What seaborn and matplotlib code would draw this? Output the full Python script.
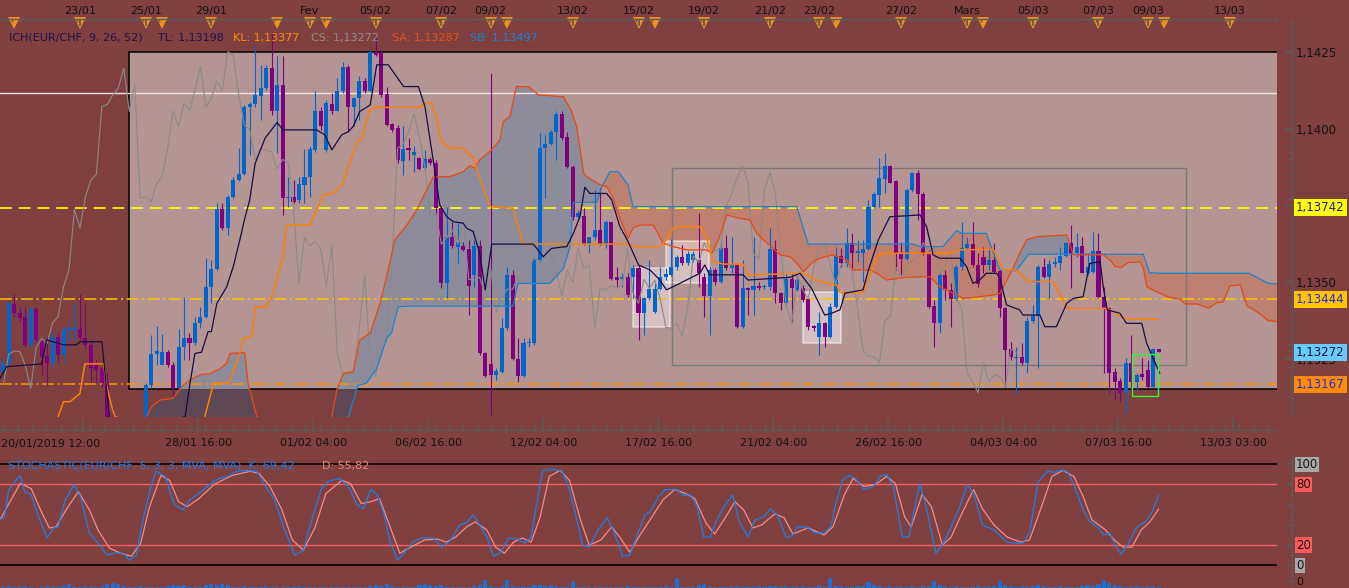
import numpy as np
import matplotlib
matplotlib.use("Agg")
import matplotlib.pyplot as plt
import seaborn as sns
from matplotlib.patches import Rectangle, Polygon
from matplotlib.transforms import blended_transform_factory
from matplotlib.ticker import FixedLocator, MultipleLocator, FuncFormatter, NullFormatter

# --- Data: EUR/CHF 4h candles, prices in 1e-5 above 1.13000 (272 -> 1,13272) ---
BASE = 1.13

open_v = [209, 236, 429, 401, 388, 296, 412, 306, 260, 236,
          323, 263, 344, 344, 347, 317, 296, 230, 219, 171,
          45, 30, 10, 20, -5, 15, 40, 165, 266, 230,
          272, 230, 154, 288, 317, 301, 368, 388, 485, 542,
          737, 676, 779, 833, 851, 1072, 1079, 1107, 1132, 1197,
          1056, 1142, 773, 779, 768, 817, 842, 931, 1058, 931,
          1081, 1059, 1124, 1202, 1070, 1099, 1155, 1124, 1248, 1246,
          1113, 1015, 1001, 896, 936, 914, 904, 871, 901, 889,
          741, 496, 646, 616, 619, 607, 524, 618, 268, 234,
          198, 209, 350, 524, 250, 194, 301, 301, 572, 936,
          950, 988, 1048, 972, 874, 711, 716, 624, 646, 670,
          624, 695, 516, 509, 518, 518, 545, 401, 448, 404,
          477, 516, 524, 548, 581, 564, 572, 572, 516, 455,
          540, 499, 610, 545, 556, 353, 480, 475, 489, 483,
          483, 607, 464, 431, 509, 475, 480, 444, 357, 323,
          366, 323, 420, 585, 564, 627, 594, 594, 607, 746,
          784, 835, 879, 828, 594, 575, 800, 857, 787, 594,
          423, 368, 524, 475, 444, 548, 610, 624, 556, 581,
          556, 572, 538, 415, 281, 252, 255, 236, 374, 390,
          548, 518, 559, 564, 585, 629, 594, 618, 531, 534,
          600, 451, 415, 209, 179, 143, 238, 176, 201, 214,
          160, 281]
high_v = [252, 437, 462, 420, 420, 420, 420, 312, 323, 339,
          334, 350, 371, 431, 462, 431, 312, 247, 225, 209,
          95, 50, 40, 35, 30, 50, 171, 328, 357, 331,
          279, 241, 347, 451, 334, 388, 420, 578, 572, 757,
          757, 784, 844, 936, 1077, 1088, 1269, 1208, 1208, 1315,
          1235, 1235, 844, 833, 844, 933, 942, 1121, 1072, 1094,
          1115, 1164, 1218, 1208, 1104, 1170, 1164, 1256, 1300, 1256,
          1137, 1018, 1012, 1009, 969, 942, 909, 931, 909, 898,
          746, 746, 697, 692, 632, 638, 638, 638, 274, 1182,
          220, 382, 551, 540, 317, 317, 319, 578, 985, 980,
          996, 1056, 1056, 990, 882, 735, 741, 648, 800, 806,
          703, 697, 551, 529, 529, 556, 556, 453, 572, 496,
          551, 545, 640, 589, 621, 603, 600, 724, 529, 551,
          545, 638, 654, 648, 562, 572, 485, 648, 502, 494,
          676, 638, 469, 531, 529, 520, 490, 453, 360, 404,
          371, 431, 616, 610, 676, 659, 638, 638, 768, 795,
          904, 920, 882, 833, 632, 806, 860, 866, 795, 605,
          442, 529, 540, 496, 556, 697, 648, 697, 594, 616,
          610, 627, 540, 420, 306, 290, 301, 388, 426, 556,
          578, 572, 583, 616, 632, 686, 659, 648, 594, 665,
          661, 485, 420, 219, 187, 252, 328, 203, 252, 247,
          285, 281]
low_v = [203, 230, 388, 371, 290, 290, 306, 198, 165, 219,
         241, 236, 306, 312, 312, 285, 176, 171, 160, 20,
         10, 0, -10, -20, -15, 5, 20, 154, 230, 230,
         225, 127, 149, 247, 247, 296, 350, 382, 431, 540,
         670, 654, 773, 828, 849, 914, 1072, 1028, 1126, 1045,
         920, 719, 746, 757, 757, 757, 779, 925, 996, 925,
         1048, 1056, 1115, 990, 1007, 1028, 1115, 1121, 1235, 1104,
         1007, 990, 887, 849, 898, 860, 866, 866, 882, 713,
         480, 448, 610, 562, 600, 393, 485, 263, 192, 67,
         181, 203, 344, 247, 176, 192, 290, 296, 567, 773,
         947, 898, 963, 871, 703, 700, 621, 594, 637, 621,
         610, 507, 485, 485, 453, 448, 312, 328, 442, 401,
         475, 507, 520, 540, 556, 556, 565, 485, 388, 328,
         491, 496, 540, 529, 350, 350, 393, 393, 475, 478,
         475, 431, 410, 426, 371, 470, 437, 344, 340, 263,
         290, 317, 415, 551, 551, 540, 567, 502, 605, 741,
         746, 790, 822, 540, 524, 572, 795, 703, 589, 415,
         290, 336, 442, 355, 442, 540, 605, 551, 485, 529,
         540, 529, 388, 160, 247, 133, 230, 203, 366, 219,
         513, 447, 551, 540, 583, 480, 583, 529, 524, 529,
         447, 203, 138, 116, 111, 73, 138, 149, 181, 154,
         154, 272]
close_v = [236, 431, 399, 385, 296, 412, 312, 258, 236, 323,
           263, 347, 350, 350, 317, 296, 219, 214, 171, 40,
           30, 10, 20, -5, 15, 35, 165, 266, 276, 274,
           230, 154, 288, 317, 301, 368, 388, 485, 542, 737,
           676, 779, 833, 851, 1072, 1079, 1110, 1132, 1197, 1056,
           1142, 773, 779, 762, 820, 844, 933, 1058, 1007, 1083,
           1059, 1124, 1202, 1070, 1099, 1155, 1124, 1251, 1240, 1110,
           1012, 996, 898, 933, 929, 925, 868, 900, 889, 741,
           496, 646, 619, 632, 605, 488, 618, 268, 194, 198,
           211, 350, 524, 249, 194, 303, 306, 572, 936, 950,
           988, 1048, 971, 874, 711, 724, 624, 646, 670, 624,
           695, 509, 507, 516, 458, 545, 401, 448, 477, 477,
           516, 526, 548, 581, 564, 592, 592, 529, 455, 540,
           499, 610, 545, 556, 353, 480, 475, 489, 480, 488,
           607, 464, 431, 509, 480, 507, 442, 353, 350, 366,
           323, 420, 585, 564, 629, 596, 603, 607, 746, 787,
           838, 879, 824, 592, 575, 800, 857, 787, 594, 420,
           368, 524, 475, 444, 548, 610, 624, 556, 494, 556,
           572, 534, 415, 279, 258, 258, 236, 374, 390, 548,
           518, 559, 567, 585, 629, 594, 616, 531, 551, 600,
           451, 415, 205, 176, 140, 238, 176, 198, 192, 160,
           281, 272]
volume = [1, 2, 1, 1, 2, 1, 0, 1, 2, 1, 1, 2,
          4, 1, 1, 2, 1, 1, 2, 4, 5, 4, 2, 1,
          1, 2, 1, 1, 1, 1, 2, 3, 2, 3, 1, 1,
          1, 3, 4, 3, 4, 3, 1, 1, 2, 1, 1, 1,
          2, 1, 1, 1, 1, 1, 2, 1, 1, 1, 1, 1,
          1, 1, 1, 1, 1, 1, 1, 2, 3, 2, 4, 2,
          1, 1, 1, 1, 3, 4, 3, 2, 3, 1, 1, 1,
          1, 1, 2, 3, 8, 2, 1, 2, 8, 2, 1, 1,
          1, 3, 3, 2, 3, 1, 1, 1, 7, 1, 1, 1,
          1, 1, 1, 1, 1, 1, 2, 1, 1, 1, 1, 1,
          1, 2, 1, 10, 1, 1, 1, 3, 4, 1, 1, 1,
          1, 1, 2, 1, 1, 1, 2, 1, 2, 2, 1, 2,
          1, 1, 2, 1, 1, 3, 1, 10, 2, 2, 1, 1,
          2, 2, 6, 3, 2, 1, 2, 1, 1, 1, 2, 1,
          2, 2, 7, 3, 2, 1, 2, 1, 1, 1, 2, 1,
          1, 2, 7, 3, 2, 1, 2, 1, 2, 3, 2, 1,
          1, 2, 1, 1, 1, 2, 3, 2, 4, 8, 5, 3,
          2, 1, 1, 2, 1, 1, 2, 1]

# Ichimoku lines as (candle index, price) knots
tenkan = [(-0.6, 187), (0.6, 225), (7.0, 234), (7.9, 312), (11.0, 296), (13.4, 296), (14.0, 306),
          (18.0, 306), (19.5, 40), (25, 30), (33.2, 62), (34.1, 171), (35.0, 268), (36.2, 272),
          (37.4, 339), (38.0, 339), (39.0, 431), (40.8, 485), (42.0, 551), (43.2, 638), (44.1, 708),
          (45.0, 768), (46.0, 887), (47.8, 969), (50.0, 1020), (51.1, 996), (57.2, 996), (58.7, 980),
          (60.0, 931), (61.8, 980), (63.0, 990), (63.9, 1007), (65.1, 1056), (67.0, 1077), (68.2, 1208),
          (70.3, 1208), (73.1, 1137), (75.8, 1137), (77.0, 1072), (78.5, 898), (79.7, 752), (81.0, 713),
          (82.2, 697), (84.0, 692), (84.6, 676), (85.8, 665), (87.0, 594), (88.0, 475), (89.2, 624),
          (96.8, 624), (98.6, 583), (100.1, 610), (102.9, 616), (104.1, 659), (105.3, 713), (106.2, 809),
          (107.1, 789), (110.2, 789), (111.1, 768), (112.6, 681), (114.1, 632), (116.0, 556), (118.1, 540),
          (119.9, 507), (121.1, 475), (122.3, 485), (127.2, 529), (128.1, 556), (129.0, 524), (135.1, 524),
          (136.0, 507), (143.7, 516), (145.5, 529), (147.6, 480), (150.0, 393), (151.3, 399), (152.8, 410),
          (153.7, 464), (157.0, 475), (158.0, 540), (159.8, 638), (161.9, 713), (167.4, 719), (168.6, 681),
          (169.8, 589), (171.0, 578), (174.7, 578), (175.9, 551), (177.1, 496), (178.3, 507), (179.5, 529),
          (181.4, 529), (182.0, 513), (183.2, 426), (185.6, 410), (186.2, 393), (189.3, 393), (190.2, 355),
          (192.3, 355), (194.2, 431), (195.4, 447), (197.2, 453), (198.4, 561), (200.3, 567), (200.9, 480),
          (201.6, 410), (203.9, 399), (205.1, 366), (207.9, 366), (208.8, 301), (210.1, 247), (211.2, 203)]
kijun = [(10.0, 62), (11.0, 111), (12.2, 111), (14.0, 138), (14.9, 234), (18.3, 234), (18.9, 160),
         (19.8, 95), (20.4, 62), (26, 30), (36, 40), (36.8, 62), (38.4, 171), (41.1, 171), (43.2, 268),
         (43.8, 317), (45.4, 323), (46.0, 420), (48.1, 420), (49.3, 464), (50.2, 529), (51.1, 583),
         (51.7, 686), (56.0, 686), (58.4, 784), (60.3, 789), (62.1, 822), (63.0, 876), (64.8, 963),
         (65.4, 963), (66.9, 1061), (67.9, 1069), (76.1, 1069), (77.0, 1083), (78.2, 1083), (79.1, 1039),
         (80.0, 958), (81.6, 936), (84.0, 936), (85.2, 914), (85.8, 907), (86.7, 855), (88.9, 746),
         (93.1, 741), (94.9, 624), (114.4, 624), (115.0, 616), (119.9, 616), (121.1, 638), (122.3, 676),
         (123.6, 681), (127.2, 681), (128.4, 648), (129.6, 567), (131.5, 559), (135.1, 559), (136.0, 524),
         (146.1, 529), (148.5, 507), (151.5, 491), (152.2, 491), (152.8, 466), (157.0, 466), (159.8, 589),
         (161.3, 594), (172.8, 594), (174.7, 605), (180.8, 607), (182.6, 540), (185.0, 540), (187.2, 502),
         (191.7, 502), (192.9, 464), (194.2, 415), (201.5, 415), (202.7, 404), (204.5, 382), (210.9, 379)]
span_a = [(20, 30), (25.5, 40), (26.2, 62), (27.1, 95), (28.6, 116), (31.0, 122), (32.6, 160), (34.1, 182),
          (36.2, 200), (37.7, 201), (39.6, 219), (40.8, 236), (41.4, 268), (44.1, 271), (44.7, 171),
          (46.3, 62), (50, 20), (58, 20), (60.0, 62), (60.9, 149), (62.1, 203), (63.9, 209), (65.1, 312),
          (67.0, 334), (68.8, 431), (70.0, 518), (71.5, 638), (73.7, 686), (75.5, 735), (77.3, 800),
          (78.5, 842), (81.6, 844), (84.0, 860), (85.2, 879), (86.1, 871), (87.0, 898), (89.2, 931),
          (90.7, 963), (91.3, 1023), (92.5, 1039), (93.7, 1137), (95.9, 1137), (97.7, 1110), (102.3, 1104),
          (103.8, 1056), (104.7, 1007), (106.0, 855), (106.5, 844), (109.0, 817), (110.2, 811), (111.4, 773),
          (112.0, 735), (113.2, 681), (114.1, 643), (115.0, 676), (116.3, 686), (118.7, 686), (120.5, 627),
          (122.3, 616), (124.8, 605), (128.4, 605), (129.4, 594), (130.6, 638), (131.5, 686), (132.1, 719),
          (134.5, 708), (136.3, 703), (137.6, 659), (138.8, 638), (140.6, 610), (141.8, 589), (143.7, 583),
          (144.9, 562), (146.1, 534), (147.6, 562), (149.1, 578), (151.5, 589), (154.0, 572), (155.2, 540),
          (158.2, 540), (159.5, 529), (161.3, 507), (165.0, 516), (169.2, 518), (171.0, 486), (175.3, 447),
          (180.8, 458), (182.0, 464), (184.1, 534), (185.6, 594), (186.9, 638), (188.7, 648), (194.2, 654),
          (195.4, 589), (200.9, 589), (202.4, 567), (203.0, 551), (204.2, 548), (205.4, 564), (207.6, 566),
          (208.2, 545), (208.8, 485), (210.6, 469), (213.0, 450), (214.9, 445), (215.8, 429), (218.0, 429),
          (220.1, 415), (221.6, 433), (222.8, 436), (224.0, 488), (225.9, 491), (227.1, 423), (228.9, 404),
          (231.0, 375), (233.0, 371)]
span_b = [(20, 20), (55, 20), (63.0, 62), (64.8, 165), (66.3, 171), (68.2, 219), (70.0, 317), (70.9, 334),
          (72.1, 420), (74.6, 422), (93.1, 422), (94.0, 496), (99.8, 496), (102.3, 545), (103.5, 616),
          (104.1, 760), (108.4, 760), (109.3, 811), (110.8, 860), (112.3, 860), (114.1, 817), (115.0, 746),
          (144.9, 746), (147.0, 624), (166.2, 624), (167.4, 616), (171.6, 616), (174.1, 668), (175.0, 659),
          (179.5, 659), (182.0, 540), (185.0, 537), (187.2, 591), (208.2, 591), (209.3, 531), (211.2, 529),
          (227.5, 529), (231.0, 496), (233.0, 494)]
CHIKOU_SHIFT = 26

# Stochastic %K and %D as (candle index, value) knots
stoch_k = [(-0.6, 45), (0.2, 48), (1.0, 75), (2.3, 84), (3.1, 89), (3.9, 73), (5.1, 70), (6.3, 50), (8.0, 27),
           (9.2, 37), (10.0, 38), (11.2, 63), (12.9, 80), (14.1, 68), (15.7, 32), (17.3, 22), (19.0, 10),
           (20.6, 12.5), (22.2, 11), (23.0, 5), (24.3, 10), (25.5, 45), (27.1, 81), (27.9, 93), (29.6, 88),
           (31.2, 60), (32.8, 55), (34.1, 65), (35.7, 71), (37.7, 80), (39.4, 86), (41.0, 88), (42.6, 93),
           (44.6, 94), (46.3, 93), (47.9, 78), (49.5, 65), (51.2, 38), (53.2, 10), (54.8, 15), (56.5, 48),
           (58.1, 76), (59.3, 83), (61.4, 86), (63.0, 78), (64.6, 60), (65.8, 56), (67.1, 75), (68.3, 70),
           (69.5, 51), (70.7, 22), (72.0, 5), (73.2, 12), (74.8, 23), (76.4, 27), (78.5, 27), (80.1, 18),
           (81.7, 25), (83.4, 40), (84.6, 42), (85.8, 50), (87.0, 40), (88.3, 28), (89.5, 9), (90.7, 12),
           (92.3, 27), (94.0, 26), (95.2, 22), (96.4, 28), (97.2, 55), (98.5, 94), (100.5, 95), (102.1, 93),
           (103.4, 75), (104.6, 48), (105.8, 20), (107.0, 18), (108.6, 35), (110.3, 47), (111.5, 33),
           (113.1, 9), (114.4, 10), (115.6, 28), (117.2, 50), (118.1, 53), (119.7, 68), (120.9, 75),
           (123.0, 75), (124.2, 69), (125.4, 70), (126.7, 58), (127.9, 28), (129.1, 28), (130.3, 45),
           (131.6, 58), (133.2, 70), (134.4, 43), (136.0, 28), (137.3, 45), (138.9, 48), (140.1, 56),
           (141.3, 50), (143.0, 27), (144.2, 30), (145.0, 38), (146.6, 38), (148.3, 32), (149.9, 32),
           (151.1, 38), (151.9, 58), (153.2, 84), (154.4, 89), (155.6, 86), (157.2, 75), (158.9, 78),
           (160.1, 88), (161.3, 90), (162.5, 78), (164.2, 28), (165.4, 28), (166.2, 51), (167.4, 81),
           (168.6, 56), (170.3, 12), (171.5, 20), (173.1, 38), (174.8, 60), (176.0, 80), (177.2, 71),
           (178.8, 40), (180.9, 35), (183.3, 23), (184.5, 22), (186.2, 22), (187.4, 32), (189.0, 83),
           (190.7, 93), (191.9, 92), (193.1, 94), (194.3, 93), (195.5, 80), (197.2, 55), (198.4, 43),
           (200.0, 37), (200.9, 30), (202.1, 32), (202.9, 21), (204.1, 11), (205.3, 20), (207.0, 38),
           (208.6, 43), (209.8, 53), (211.0, 69.42)]
stoch_d = [(-0.6, 45), (1.0, 61), (3.1, 81), (5.1, 76), (6.7, 56), (8.4, 37), (9.6, 38), (11.6, 56), (13.7, 73),
           (15.7, 55), (17.3, 35), (19.4, 17), (21.4, 12), (23.4, 9), (25.1, 22), (26.7, 58), (28.8, 89),
           (30.4, 84), (32.0, 63), (33.6, 58), (35.7, 66), (38.5, 80), (41.8, 89), (45.1, 93), (46.7, 91),
           (48.7, 78), (50.8, 56), (52.8, 25), (54.8, 15), (56.9, 37), (58.9, 71), (61.8, 84), (63.4, 81),
           (65.4, 61), (67.1, 63), (68.7, 66), (70.3, 43), (72.4, 12), (74.4, 18), (76.9, 25), (79.3, 26),
           (80.9, 23), (82.6, 28), (84.6, 38), (86.2, 43), (88.3, 35), (89.9, 18), (91.5, 12), (93.2, 23),
           (94.8, 27), (96.4, 23), (98.0, 47), (99.7, 88), (101.7, 94), (103.4, 84), (105.4, 45), (107.0, 20),
           (109.1, 25), (111.1, 38), (112.7, 27), (114.4, 13), (116.4, 31), (118.1, 45), (120.5, 65),
           (122.6, 75), (124.6, 71), (126.3, 66), (128.3, 42), (129.9, 31), (131.6, 45), (133.6, 63),
           (135.2, 55), (136.9, 37), (138.5, 40), (140.9, 51), (142.6, 47), (144.2, 31), (147.0, 37),
           (149.9, 30), (151.5, 38), (153.6, 70), (155.2, 86), (157.2, 78), (159.3, 80), (161.3, 88),
           (162.9, 81), (164.6, 48), (165.8, 38), (167.8, 70), (169.5, 58), (171.5, 20), (173.1, 28),
           (175.2, 53), (177.2, 75), (178.8, 56), (180.9, 40), (183.3, 28), (185.8, 23), (187.4, 25),
           (189.4, 55), (191.5, 88), (193.5, 94), (195.5, 88), (197.2, 68), (198.8, 45), (201.3, 35),
           (202.9, 25), (204.5, 18), (206.1, 18), (207.8, 35), (209.4, 43), (211.0, 55.82)]

# Horizontal levels (1e-5 above 1.13)
level_white = 1117
level_yellow = 742
level_gold = 444
level_orange = 167
last_price = 272

# Drawn objects: (left index, right index, low, high)
zone_box = (23.0, 260.0, 152, 1250)
range_box = (122.1, 215.9, 231, 871)
light_boxes = [(115.0, 121.8, 354, 546), (121.0, 128.9, 497, 634), (146.0, 152.9, 301, 469)]
green_box = (206.1, 210.9, 129, 266)

top_pos = [14, 26, 38, 56, 68, 80, 89, 104, 116, 128, 140, 149, 164, 176, 188, 200, 209, 224]
top_labels = ["23/01", "25/01", "29/01", "Fev", "05/02", "07/02", "09/02", "13/02", "15/02", "19/02",
              "21/02", "23/02", "27/02", "Mars", "05/03", "07/03", "09/03", "13/03"]
event_marks = [2, 14, 26, 29, 38, 50, 56, 59, 68, 80, 89, 92, 104, 116, 119, 128, 140, 149, 152, 164,
               176, 179, 188, 200, 209, 212, 224]
bottom_pos = [14.6, 35.6, 56.6, 77.6, 98.6, 119.6, 140.6, 161.6, 182.6, 203.6, 224.6]
bottom_labels = ["", "28/01 16:00", "01/02 04:00", "06/02 16:00", "12/02 04:00", "17/02 16:00",
                 "21/02 04:00", "26/02 16:00", "04/03 04:00", "07/03 16:00", "13/03 03:00"]


def P(v):
    return BASE + np.asarray(v, dtype=float) / 1e5


def unzip(pairs, price=True):
    xs = np.array([p[0] for p in pairs], dtype=float)
    ys = np.array([p[1] for p in pairs], dtype=float)
    return xs, (P(ys) if price else ys)


# --- Style ---
sns.set_theme(style="white")
plt.rcParams["font.family"] = ["DejaVu Sans"]
plt.rcParams["lines.scale_dashes"] = False
plt.rcParams["axes.linewidth"] = 1.0

BG = "#804040"
PINK = "#b59494"
BLUE_C = "#0066cc"
PURPLE_C = "#800080"
AX_GREY = "#5c5c5c"
TXT = "#141414"

W, H = 1349, 588
fig = plt.figure(figsize=(W / 100, H / 100), dpi=100, facecolor=BG)


def add_ax(x0, y0, x1, y1):
    a = fig.add_axes([x0 / W, 1 - y1 / H, (x1 - x0) / W, (y1 - y0) / H])
    a.set_facecolor(BG)
    return a


X0, X1 = -0.603, 232.6
Y0, Y1 = P(61), P(1357)

# --- Main price pane ---
ax = add_ax(0, 19, 1277, 417)
ax_top = ax.twiny()
ax.set_xlim(X0, X1)
ax.set_ylim(Y0, Y1)
ax_top.set_xlim(X0, X1)

idx = np.arange(len(close_v))
o, h, l, c = P(open_v), P(high_v), P(low_v), P(close_v)

# zone box (opaque pink on top of the dark background)
zb = zone_box
ax.add_patch(Rectangle((zb[0], P(zb[2])), zb[1] - zb[0], P(zb[3]) - P(zb[2]),
                       facecolor=PINK, edgecolor="black", lw=1.1, zorder=1))

# ichimoku cloud: grey where span A is on top, red where span B is on top
sa_x, sa_y = unzip(span_a)
sb_x, sb_y = unzip(span_b)
poly_x = np.r_[sa_x, sb_x[::-1]]
poly_y = np.r_[sa_y, sb_y[::-1]]
lo, hi = 1.12, 1.16
below_sa = Polygon(np.c_[np.r_[sa_x, sa_x[-1], sa_x[0]], np.r_[sa_y, lo, lo]], closed=True,
                   transform=ax.transData)
above_sa = Polygon(np.c_[np.r_[sa_x, sa_x[-1], sa_x[0]], np.r_[sa_y, hi, hi]], closed=True,
                   transform=ax.transData)
grey_cloud = ax.fill(poly_x, poly_y, color="#8e8c9b", lw=0, zorder=2)[0]
grey_cloud.set_clip_path(below_sa)
red_cloud = ax.fill(poly_x, poly_y, color="#be8070", lw=0, zorder=2)[0]
red_cloud.set_clip_path(above_sa)
# part of the cloud outside the pink zone looks darker
dark_cloud = ax.fill(poly_x, poly_y, color="#5f4855", lw=0, zorder=2.2)[0]
dark_cloud.set_clip_path(Rectangle((X0, Y0), X1 - X0, P(zb[2]) - Y0, transform=ax.transData))

# annotation boxes
for b in light_boxes:
    ax.add_patch(Rectangle((b[0], P(b[2])), b[1] - b[0], P(b[3]) - P(b[2]),
                           facecolor=(1, 1, 1, 0.42), edgecolor=(1, 1, 1, 0.55), lw=1.1, zorder=3))
rb = range_box
ax.add_patch(Rectangle((rb[0], P(rb[2])), rb[1] - rb[0], P(rb[3]) - P(rb[2]),
                       fill=False, edgecolor="#7a7a7a", lw=1.0, zorder=3))
gb = green_box
ax.add_patch(Rectangle((gb[0], P(gb[2])), gb[1] - gb[0], P(gb[3]) - P(gb[2]),
                       fill=False, edgecolor="#2cff2c", lw=1.0, zorder=6))

# horizontal levels
ax.axhline(P(level_white), color="#efe4e4", lw=1.0, zorder=3)
ax.axhline(P(level_yellow), color="#ffff00", lw=1.2, ls=(0, (8.5, 5.0)), zorder=3)
ax.axhline(P(level_gold), color="#ffc400", lw=1.1, ls=(0, (8.5, 2.6, 1.5, 2.6)), zorder=3)
ax.axhline(P(level_orange), color="#ff9400", lw=1.1, ls=(0, (8.5, 2.6, 1.5, 2.6)), zorder=3)

# candles
cols = np.where(c >= o, BLUE_C, PURPLE_C)
ax.vlines(idx, l, h, colors=cols, lw=0.8, zorder=4)
body_lo = np.minimum(o, c)
body_h = np.maximum(np.abs(c - o), 0.00004)
ax.bar(idx, body_h, bottom=body_lo, width=0.74, color=cols, lw=0, zorder=4.5)

# ichimoku lines
sns.lineplot(x=idx[:-CHIKOU_SHIFT], y=c[CHIKOU_SHIFT:], ax=ax, color="#8a8a8a", lw=0.8,
             estimator=None, sort=False, zorder=5)
for pairs, col, lw in [(span_b, "#1a86cc", 0.9), (span_a, "#e64a14", 0.9),
                       (kijun, "#ff8000", 1.1), (tenkan, "#150c45", 0.9)]:
    xs, ys = unzip(pairs)
    sns.lineplot(x=xs, y=ys, ax=ax, color=col, lw=lw, estimator=None, sort=False, zorder=5)

# event markers along the top time axis
ev_tr = blended_transform_factory(ax.transData, ax.transAxes)
ax.plot(event_marks, [0.99] * len(event_marks), ls="none", marker="v", ms=8, color="#f0901c",
        mec="#f0901c", mew=0, transform=ev_tr, clip_on=False, zorder=7)

# axes styling
ax.set_xlabel("")
ax.set_ylabel("")
for s in ["left", "top"]:
    ax.spines[s].set_visible(False)
ax.spines["right"].set_position(("outward", 10.8))
ax.spines["bottom"].set_position(("outward", 9.4))
for s in ["right", "bottom"]:
    ax.spines[s].set_color(AX_GREY)
ax.yaxis.tick_right()
ax.yaxis.set_major_locator(MultipleLocator(0.0025))
ax.yaxis.set_minor_locator(MultipleLocator(0.00025))
# the 1,1375 label sits under the yellow price flag in the original
ax.yaxis.set_major_formatter(FuncFormatter(
    lambda v, _: "" if abs(v - 1.1375) < 1e-6 else f"{v:.4f}".replace(".", ",")))
ax.tick_params(axis="y", which="both", direction="in", right=True, left=False, labelright=True,
               labelleft=False, colors=AX_GREY, labelcolor=TXT, labelsize=8.5, pad=3)
ax.tick_params(axis="y", which="major", length=5)
ax.tick_params(axis="y", which="minor", length=3)
ax.xaxis.set_major_locator(FixedLocator(bottom_pos))
ax.set_xticklabels(bottom_labels)
ax.xaxis.set_minor_locator(MultipleLocator(21 / 8))
ax.tick_params(axis="x", which="both", direction="in", bottom=True, top=False, colors=AX_GREY,
               labelcolor=TXT, labelsize=8, pad=6)
ax.tick_params(axis="x", which="major", length=8.5)
ax.tick_params(axis="x", which="minor", length=4.5)

for s in ["left", "right", "bottom"]:
    ax_top.spines[s].set_visible(False)
ax_top.spines["top"].set_color(AX_GREY)
ax_top.xaxis.set_major_locator(FixedLocator(top_pos))
ax_top.set_xticklabels(top_labels)
ax_top.xaxis.set_minor_locator(MultipleLocator(1.5))
ax_top.tick_params(axis="x", which="both", direction="in", top=True, bottom=False, colors=AX_GREY,
                   labelcolor=TXT, labelsize=8, pad=2)
ax_top.tick_params(axis="x", which="major", length=5)
ax_top.tick_params(axis="x", which="minor", length=2.5)
ax_top.tick_params(axis="y", left=False, right=False, labelleft=False, labelright=False)

# legend line
legend_parts = [(9, "ICH(EUR/CHF, 9, 26, 52)", "#1c1450"), (158, "TL: 1,13198", "#1c1450"),
                (233, "KL: 1,13377", "#ff8c00"), (311, "CS: 1,13272", "#8c8c8c"),
                (392, "SA: 1,13287", "#e8501a"), (470, "SB: 1,13497", "#1a86d6")]
for x, t, col in legend_parts:
    fig.text(x / W, 1 - 38 / H, t, color=col, fontsize=8, va="center", ha="left", zorder=10)

fig.text(1 / W, 1 - 444 / H, "20/01/2019 12:00", color=TXT, fontsize=8, va="center", ha="left")

# price flags on the right axis
flag_tr = blended_transform_factory(fig.transFigure, ax.transData)
for v, fc, tc in [(level_yellow, "#ffff00", "#1e1e9a"), (level_gold, "#ffc400", "#2a2ae0"),
                  (last_price, "#66ccff", "#101030"), (level_orange, "#ff8c00", "#2a2ae0")]:
    fig.text(1296 / W, P(v), f"{P(v):.5f}".replace(".", ","), transform=flag_tr, fontsize=8.5,
             color=tc, va="center", ha="left", zorder=10,
             bbox=dict(boxstyle="square,pad=0.18", fc=fc, ec="none"))

# --- Stochastic pane ---
ax_st = add_ax(0, 455, 1277, 570)
ax_st.axhline(100, color="black", lw=1.1, zorder=2)
ax_st.axhline(0, color="black", lw=1.1, zorder=2)
ax_st.axhline(80, color="#ff5c5c", lw=1.0, zorder=2)
ax_st.axhline(20, color="#ff5c5c", lw=1.0, zorder=2)
kx, ky = unzip(stoch_k, price=False)
dx, dy = unzip(stoch_d, price=False)
sns.lineplot(x=dx, y=dy, ax=ax_st, color="#f28a8a", lw=0.9, estimator=None, sort=False, zorder=3)
sns.lineplot(x=kx, y=ky, ax=ax_st, color="#1f7fe8", lw=0.9, estimator=None, sort=False, zorder=4)
ax_st.set_xlim(X0, X1)
ax_st.set_ylim(-4.65, 109.2)
ax_st.set_xlabel("")
ax_st.set_ylabel("")
for s in ["left", "top", "bottom"]:
    ax_st.spines[s].set_visible(False)
ax_st.spines["right"].set_position(("outward", 10.8))
ax_st.spines["right"].set_color(AX_GREY)
ax_st.set_xticks([])
ax_st.yaxis.tick_right()
ax_st.yaxis.set_major_locator(MultipleLocator(20))
ax_st.yaxis.set_minor_locator(MultipleLocator(10))
ax_st.yaxis.set_major_formatter(NullFormatter())
ax_st.tick_params(axis="y", which="both", direction="in", right=True, left=False, colors=AX_GREY,
                  labelright=False, labelleft=False)
ax_st.tick_params(axis="y", which="major", length=4)
ax_st.tick_params(axis="y", which="minor", length=2.5)

fig.text(8 / W, 1 - 466 / H, "STOCHASTIC(EUR/CHF, 5, 3, 3, MVA, MVA)  K: 69,42", color="#1e78e6",
         fontsize=8, va="center", ha="left")
fig.text(322 / W, 1 - 466 / H, "D: 55,82", color="#f08080", fontsize=8, va="center", ha="left")

st_tr = blended_transform_factory(fig.transFigure, ax_st.transData)
for val, fc in [(100, "#a8a8a8"), (80, "#ff5a5a"), (20, "#ff5a5a"), (0, "#a8a8a8")]:
    fig.text(1296 / W, val, str(val), transform=st_tr, fontsize=8.5, color=TXT, va="center",
             ha="left", bbox=dict(boxstyle="square,pad=0.1", fc=fc, ec="none"))

# --- Volume pane ---
ax_v = add_ax(0, 570, 1277, 588)
ax_v.bar(idx, volume, width=0.75, color="#1f6fd1", lw=0)
ax_v.set_xlim(X0, X1)
ax_v.set_ylim(0, 18)
for s in ["left", "top", "bottom"]:
    ax_v.spines[s].set_visible(False)
ax_v.spines["right"].set_position(("outward", 10.8))
ax_v.spines["right"].set_color(AX_GREY)
ax_v.set_xticks([])
ax_v.yaxis.tick_right()
ax_v.set_yticks([7])
ax_v.set_yticklabels(["0"])
ax_v.tick_params(axis="y", direction="in", right=True, left=False, colors=AX_GREY, labelcolor=TXT,
                 labelsize=8, length=4, pad=3)

fig.savefig("out.png", dpi=100, facecolor=BG)
